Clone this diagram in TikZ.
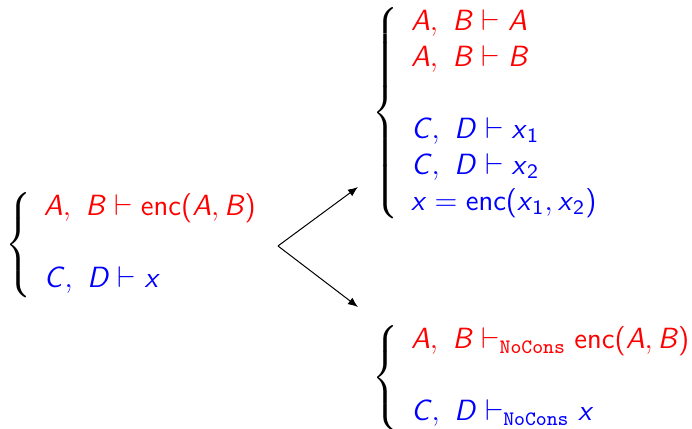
\documentclass[tikz,border=0pt]{standalone}
\usepackage{amsmath,amssymb}
\usepackage{xcolor}
\usetikzlibrary{arrows.meta}
\newcommand{\mv}[1]{\textsf{\textit{#1}}}
\newcommand{\encf}[1]{\textsf{enc(}#1\textsf{)}}
\newcommand{\ncvdash}{\vdash_{\texttt{NoCons}}}

\begin{document}
\begin{tikzpicture}[
    block/.style={inner sep=0pt, anchor=west, font=\fontsize{11.7}{14.4}\selectfont},
    arrow/.style={-{Latex[length=4pt, width=3.2pt]}, thin}
]
\useasboundingbox (0,0) rectangle (9.729,6.031);

% initial system
\node[block] (start) at (0.07, 2.59) {$\left\{\begin{array}{l}
    \color{red}\mv{A},\ \mv{B} \vdash \encf{\mv{A}, \mv{B}} \\ \\
    \color{blue}\mv{C},\ \mv{D} \vdash \mv{x}
\end{array}\right.$};

% split into components
\node[block] (split) at (5.23, 4.44) {$\left\{\begin{array}{l}
    \color{red}\mv{A},\ \mv{B} \vdash \mv{A} \\
    \color{red}\mv{A},\ \mv{B} \vdash \mv{B} \\ \\
    \color{blue}\mv{C},\ \mv{D} \vdash \mv{x}_{\textsf{1}} \\
    \color{blue}\mv{C},\ \mv{D} \vdash \mv{x}_{\textsf{2}} \\
    \color{blue}\mv{x} = \encf{\mv{x}_{\textsf{1}}, \mv{x}_{\textsf{2}}}
\end{array}\right.$};

% no constructor
\node[block] (nocons) at (5.23, 0.72) {$\left\{\begin{array}{l}
    \color{red}\mv{A},\ \mv{B} \ncvdash \encf{\mv{A}, \mv{B}} \\ \\
    \color{blue}\mv{C},\ \mv{D} \ncvdash \mv{x}
\end{array}\right.$};

\coordinate (fork) at (3.908, 2.573);
\coordinate (up) at (5.033, 3.402);
\coordinate (down) at (5.033, 1.715);
\draw[arrow] (fork) -- (up);
\draw[arrow] (fork) -- (down);

\end{tikzpicture}
\end{document}
